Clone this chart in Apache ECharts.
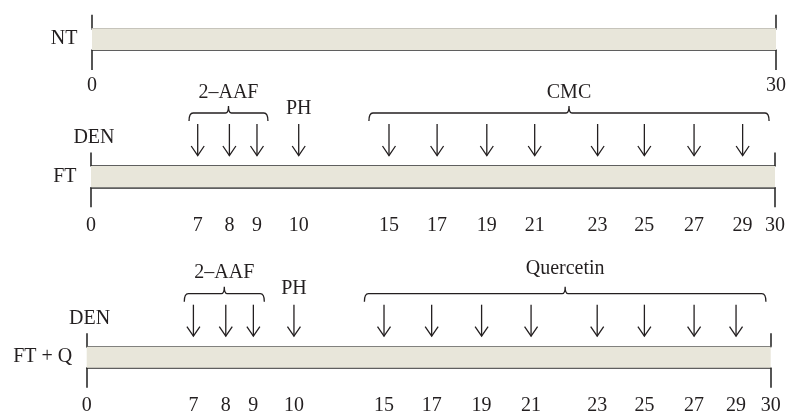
<!DOCTYPE html>
<html><head><meta charset="utf-8">
<script src="https://cdn.jsdelivr.net/npm/echarts@6/dist/echarts.min.js"></script>
<style>html,body{margin:0;padding:0;background:#fff}#c{width:787px;height:412px}</style>
</head><body><div id="c"></div>
<script>
// ---- data ----
var rowNames = ['NT', 'FT', 'FT + Q'];
var totalDays = 30;
// treatment days (schematic, not to scale)
var doseDays = [7, 8, 9, 10, 15, 17, 19, 21, 23, 25, 27, 29];
// schematic axis positions (0..30 scale) of each dose day, per row
var ftPos  = [4.68, 6.07, 7.28, 9.11, 13.07, 15.18, 17.36, 19.46, 22.22, 24.27, 26.45, 28.58];
var ftqPos = [4.68, 6.10, 7.31, 9.09, 13.04, 15.13, 17.32, 19.49, 22.39, 24.46, 26.64, 28.48];
// bracket groups: [label, start position, end position]
var ftBrackets  = [['2–AAF', 4.30, 7.76], ['CMC', 12.19, 29.74]];
var ftqBrackets = [['2–AAF', 4.28, 7.79], ['Quercetin', 12.18, 29.79]];
// single-point labels: [label, position]
var ftMarks  = [['DEN', 0.13], ['PH', 9.11]];
var ftqMarks = [['DEN', 0.13], ['PH', 9.09]];

// ---- style ----
var INK = '#231f20';
var LINE = '#2b2b2b';
var FILL = '#e8e6da';
var FONT = 'Liberation Serif';
var FS = 20;

var grids = [
  {left: 92, right: 11, top: 28.3, height: 21.7},
  {left: 91, right: 12, top: 166, height: 21.3},
  {left: 86.7, right: 16.3, top: 346.7, height: 21}
];
var labelMargins = [25.5, 28, 28.5];

function dayLabelFormatter(posArr) {
  return function (v) {
    if (Math.abs(v) < 1e-6) return '0';
    if (Math.abs(v - totalDays) < 1e-6) return String(totalDays);
    for (var i = 0; i < posArr.length; i++) {
      if (Math.abs(posArr[i] - v) < 1e-6) return String(doseDays[i]);
    }
    return '';
  };
}

var xAxes = [], yAxes = [], series = [];
var rowPos = [null, ftPos, ftqPos];
var rowBr = [null, ftBrackets, ftqBrackets];
var rowMk = [null, ftMarks, ftqMarks];

for (var r = 0; r < 3; r++) {
  var labelVals = r === 0 ? [0, totalDays] : [0].concat(rowPos[r]).concat([totalDays]);
  var fmtPos = r === 0 ? [] : rowPos[r];
  xAxes.push({
    type: 'value', gridIndex: r, min: 0, max: totalDays, position: 'bottom',
    splitLine: {show: false},
    axisLine: {show: true, lineStyle: {color: LINE, width: 1.5}},
    axisTick: {show: true, customValues: [0, totalDays], length: 20, lineStyle: {color: LINE, width: 1.6}},
    axisLabel: {show: true, customValues: labelVals, margin: labelMargins[r], color: INK,
      fontFamily: FONT, fontSize: FS, formatter: dayLabelFormatter(fmtPos)}
  });
  xAxes.push({
    type: 'value', gridIndex: r, min: 0, max: totalDays, position: 'top',
    splitLine: {show: false},
    axisLine: {show: true, lineStyle: {color: LINE, width: 1.5}},
    axisTick: {show: true, customValues: [0, totalDays], length: 13.5, lineStyle: {color: LINE, width: 1.6}},
    axisLabel: {show: false}
  });
  yAxes.push({
    type: 'category', gridIndex: r, data: [rowNames[r]],
    axisLine: {show: false}, axisTick: {show: false}, splitLine: {show: false},
    axisLabel: {margin: 14.5, color: INK, fontFamily: FONT, fontSize: FS}
  });
  series.push({
    type: 'bar', xAxisIndex: r * 2, yAxisIndex: r, data: [totalDays],
    barWidth: '100%', itemStyle: {color: FILL}, silent: true, z: 1
  });
  if (r === 0) continue;

  series.push({
    type: 'custom', xAxisIndex: r * 2, yAxisIndex: r, silent: true, z: 5,
    data: rowPos[r].map(function (p) { return [p, 0]; }),
    renderItem: function (params, api) {
      var c = api.coord([api.value(0), 0]);
      var h = api.size([0, 1])[1];
      var top = c[1] - h / 2;
      var x = c[0], y0 = top - 42, y1 = top - 10.5;
      return {type: 'group', children: [
        {type: 'line', shape: {x1: x, y1: y0, x2: x, y2: y1}, style: {stroke: INK, lineWidth: 1.3}},
        {type: 'polyline', shape: {points: [[x - 6.5, y1 - 9.5], [x, y1], [x + 6.5, y1 - 9.5]]},
          style: {stroke: INK, lineWidth: 1.3, fill: null}}
      ]};
    }
  });
  series.push({
    type: 'custom', xAxisIndex: r * 2, yAxisIndex: r, silent: true, z: 5,
    data: rowBr[r].map(function (b, i) { return [b[1], b[2], i]; }),
    renderItem: (function (brs) { return function (params, api) {
      var a = api.coord([api.value(0), 0]);
      var b = api.coord([api.value(1), 0]);
      var h = api.size([0, 1])[1];
      var top = a[1] - h / 2;
      var y = top - 53;
      var x1 = a[0], x2 = b[0], xm = (x1 + x2) / 2;
      var name = brs[api.value(2)][0];
      var long = name.length > 5;
      var d = 'M' + x1 + ' ' + (y + 8) + ' Q' + x1 + ' ' + y + ' ' + (x1 + 4) + ' ' + y +
        ' L' + (xm - 3) + ' ' + y + ' Q' + xm + ' ' + y + ' ' + xm + ' ' + (y - 7) +
        ' Q' + xm + ' ' + y + ' ' + (xm + 3) + ' ' + y +
        ' L' + (x2 - 4) + ' ' + y + ' Q' + x2 + ' ' + y + ' ' + x2 + ' ' + (y + 8);
      return {type: 'group', children: [
        {type: 'path', shape: {pathData: d}, style: {stroke: INK, lineWidth: 1.3, fill: null}},
        {type: 'text', x: xm, y: top - (long ? 77.5 : 73.5),
          style: {text: name, fill: INK, font: FS + 'px "' + FONT + '"', align: 'center', verticalAlign: 'middle'}}
      ]};
    }; })(rowBr[r])
  });
  series.push({
    type: 'custom', xAxisIndex: r * 2, yAxisIndex: r, silent: true, z: 5,
    data: rowMk[r].map(function (m, i) { return [m[1], i]; }),
    renderItem: (function (mks) { return function (params, api) {
      var c = api.coord([api.value(0), 0]);
      var h = api.size([0, 1])[1];
      var top = c[1] - h / 2;
      var name = mks[api.value(1)][0];
      var dy = name === 'DEN' ? 28 : 57.5;
      return {type: 'text', x: c[0], y: top - dy,
        style: {text: name, fill: INK, font: FS + 'px "' + FONT + '"', align: 'center', verticalAlign: 'middle'}};
    }; })(rowMk[r])
  });
}

var chart = echarts.init(document.getElementById('c'), null, {renderer: 'canvas'});
chart.setOption({
  animation: false,
  backgroundColor: '#fff',
  grid: grids.map(function (g) { return Object.assign({containLabel: false, outerBoundsMode: 'none'}, g); }),
  xAxis: xAxes,
  yAxis: yAxes,
  series: series
});
</script></body></html>
